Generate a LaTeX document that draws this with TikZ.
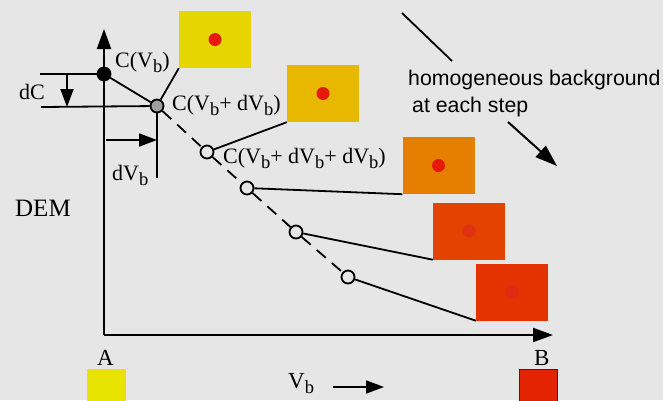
\documentclass[tikz,border=0pt]{standalone}
\usepackage{fontspec}
\setmainfont{Liberation Serif}
\newfontfamily\notesans{Liberation Sans}
\usetikzlibrary{arrows.meta}
\definecolor{bggray}{HTML}{E6E6E6}
\definecolor{stepA}{HTML}{E6E400}
\definecolor{stepone}{HTML}{E6D500}
\definecolor{steptwo}{HTML}{E8B800}
\definecolor{stepthree}{HTML}{E67E00}
\definecolor{stepfour}{HTML}{E44200}
\definecolor{stepfive}{HTML}{E43200}
\definecolor{stepB}{HTML}{E42400}
\definecolor{dotred}{HTML}{E61A0A}
\definecolor{dotfour}{HTML}{E03212}
\definecolor{dotfive}{HTML}{E02A14}
\newcommand{\bsub}{\raisebox{-0.5ex}{\fontsize{18.5}{18}\selectfont b}}
\begin{document}
\begin{tikzpicture}[x=1pt,y=-1pt,
  every node/.style={font=\fontsize{22}{24}\selectfont},
  lbl/.style={anchor=base west,inner sep=0pt},
  axisline/.style={line width=2pt,-{Triangle[length=20pt,width=14pt]}},
  markarrow/.style={line width=1.8pt,-{Triangle[length=18pt,width=13pt]}},
  link/.style={line width=1.8pt},
  ptfull/.style={circle,draw,line width=1.8pt,fill=black,minimum size=13pt,inner sep=0pt},
  ptgray/.style={circle,draw,line width=1.8pt,fill=gray!75,minimum size=13pt,inner sep=0pt},
  ptopen/.style={circle,draw,line width=1.8pt,fill=bggray,minimum size=13pt,inner sep=0pt},
  patch/.style={minimum width=72pt,minimum height=57pt,inner sep=0pt}]
\fill[bggray] (0,0) rectangle (663,400);
\useasboundingbox (0,0) rectangle (663,400);
% axes
\coordinate (orig) at (104,335);
\coordinate (ytip) at (104,29);
\coordinate (xtip) at (553,335);
\draw[axisline] (orig) -- (ytip);
\draw[axisline] (orig) -- (xtip);
% points of the curve
\node[ptfull] (p0) at (104,74) {};
\node[ptgray] (p1) at (157,106) {};
\node[ptopen] (p2) at (207,152) {};
\node[ptopen] (p3) at (247,188) {};
\node[ptopen] (p4) at (296,232) {};
\node[ptopen] (p5) at (348,277) {};
\draw[link] (p0) -- (p1);
\draw[link,dash pattern=on 12pt off 8pt] (p1) -- (p2);
\draw[link,dash pattern=on 12pt off 8pt] (p2) -- (p3);
\draw[link,dash pattern=on 12pt off 8pt] (p3) -- (p4);
\draw[link,dash pattern=on 12pt off 8pt] (p4) -- (p5);
% background patches
\node[patch,fill=stepone] (s1) at (215,39.5) {};
\node[patch,fill=steptwo] (s2) at (323,93.5) {};
\node[patch,fill=stepthree] (s3) at (438.5,165.5) {};
\node[patch,fill=stepfour] (s4) at (469,231) {};
\node[patch,fill=stepfive] (s5) at (512,292) {};
\foreach \s/\c in {s1/dotred,s2/dotred,s3/dotred,s4/dotfour,s5/dotfive}
  \fill[\c] (\s.center) circle (6.5);
\draw[link] (p1) -- (s1.south west);
\draw[link] (p2) -- (s2.south west);
\draw[link] (p3) -- (s3.south west);
\draw[link] (p4) -- (s4.south west);
\draw[link] (p5) -- (s5.south west);
% dC and dVb marks
\coordinate (dctop) at (40,74);
\coordinate (dcbot) at (41,107);
\draw[link] (dctop) -- (p0);
\draw[link] (dcbot) -- (p1);
\coordinate (dca) at (67,74);
\coordinate (dcb) at (67,107);
\draw[markarrow] (dca) -- (dcb);
\coordinate (dvend) at (157,178);
\draw[link] (p1) -- (dvend);
\coordinate (dva) at (106,140);
\coordinate (dvb) at (157,140);
\draw[markarrow] (dva) -- (dvb);
% labels
\node[lbl] (lc0) at (115,67) {C(V\bsub)};
\node[lbl] (lc1) at (172,110) {C(V\bsub+ dV\bsub)};
\node[lbl] (lc2) at (223,163) {C(V\bsub+ dV\bsub+ dV\bsub)};
\node[lbl] (ldv) at (112,180) {dV\bsub};
\node[lbl] (ldc) at (19,99) {dC};
\node[lbl,font=\fontsize{25}{27}\selectfont] (ldem) at (15,216) {DEM};
% end members A and B
\node[lbl,font=\fontsize{23}{25}\selectfont] (la) at (97,365) {A};
\node[lbl,font=\fontsize{23}{25}\selectfont] (lb) at (534,365) {B};
\node[minimum width=39pt,minimum height=32pt,inner sep=0pt,fill=stepA] (sa) at (106.5,385) {};
\node[minimum width=38pt,minimum height=32pt,inner sep=0pt,fill=stepB,draw=red!55!black,line width=1pt] (sb) at (538.5,385) {};
\node[lbl,font=\fontsize{23}{25}\selectfont] (lvb) at (288,388) {V\bsub};
\coordinate (vba) at (333,387);
\coordinate (vbb) at (384,387);
\draw[markarrow] (vba) -- (vbb);
% note on the right
\node[lbl,font=\notesans\fontsize{21.3}{23}\selectfont] (note1) at (408,85) {homogeneous background};
\node[lbl,font=\notesans\fontsize{21.3}{23}\selectfont] (note2) at (412,112) {at each step};
\coordinate (nla) at (402,13);
\coordinate (nlb) at (452,61);
\draw[link] (nla) -- (nlb);
\coordinate (naa) at (508,122);
\coordinate (nab) at (557,166);
\draw[line width=2pt,-{Triangle[length=22pt,width=15pt]}] (naa) -- (nab);
\end{tikzpicture}
\end{document}
